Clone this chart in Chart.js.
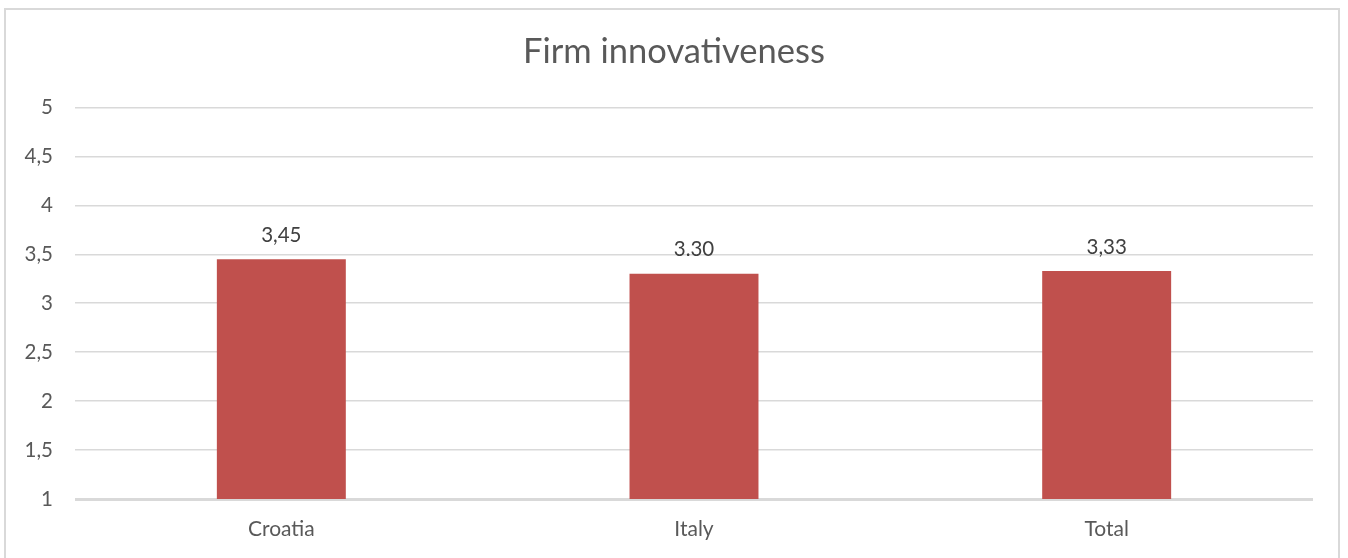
<!DOCTYPE html>
<html>
<head>
<meta charset="utf-8">
<title>Firm innovativeness</title>
<script src="https://cdn.jsdelivr.net/npm/chart.js@4/dist/chart.umd.min.js"></script>
<style>
    html, body { margin: 0; padding: 0; background: #fff; overflow: hidden; }
    #wrap { position: relative; width: 1348px; height: 558px; }
    #frame {
        position: absolute; left: 4px; top: 8px; width: 1336px; height: 600px;
        border: 2px solid #d9d9d9; box-sizing: border-box;
    }
    canvas { position: absolute; left: 0; top: 0; }
</style>
</head>
<body>
<div id="wrap">
    <div id="frame"></div>
    <canvas id="chart" width="1348" height="558"></canvas>
</div>
<script>
const categories = ['Croatia', 'Italy', 'Total'];
const scores = [3.45, 3.30, 3.33];
const scoreLabels = ['3,45', '3.30', '3,33'];
const yTickLabels = { 1: '1', 1.5: '1,5', 2: '2', 2.5: '2,5', 3: '3', 3.5: '3,5', 4: '4', 4.5: '4,5', 5: '5' };

const FONT = 'Lato, "Open Sans", sans-serif';

// value labels above each bar
const barLabels = {
    id: 'barLabels',
    afterDatasetsDraw(chart) {
        const ctx = chart.ctx;
        const meta = chart.getDatasetMeta(0);
        ctx.save();
        ctx.font = '20.5px ' + FONT;
        ctx.fillStyle = '#404040';
        ctx.textAlign = 'center';
        ctx.textBaseline = 'middle';
        meta.data.forEach((bar, i) => {
            ctx.fillText(scoreLabels[i], bar.x, bar.y - 24);
        });
        ctx.restore();
    }
};

new Chart(document.getElementById('chart'), {
    type: 'bar',
    data: {
        labels: categories,
        datasets: [{
            data: scores,
            backgroundColor: '#c0504d',
            borderWidth: 0,
            barPercentage: 0.3125,
            categoryPercentage: 1
        }]
    },
    options: {
        responsive: false,
        animation: false,
        layout: { padding: 0 },
        plugins: {
            legend: { display: false },
            tooltip: { enabled: false },
            title: {
                display: true,
                text: 'Firm innovativeness',
                color: '#595959',
                font: { family: FONT, size: 34.5, weight: 'normal' },
                padding: { top: 31, bottom: 35 }
            }
        },
        scales: {
            x: {
                grid: { display: false, drawTicks: false },
                border: { display: false },
                ticks: { color: '#595959', font: { family: FONT, size: 21 }, padding: 18 },
                afterFit(scale) { scale.height = 59; }
            },
            y: {
                min: 1,
                max: 5,
                border: { display: false },
                grid: {
                    drawTicks: false,
                    color: '#d9d9d9',
                    lineWidth: c => (c.tick && c.tick.value === 1 ? 3 : 1.5)
                },
                ticks: {
                    stepSize: 0.5,
                    color: '#595959',
                    font: { family: FONT, size: 20.5 },
                    padding: 22,
                    callback: v => yTickLabels[v]
                },
                afterFit(scale) { scale.width = 75; }
            },
            // empty right axis, only keeps a margin so the title stays centred on the frame
            yRight: {
                position: 'right',
                grid: { display: false, drawTicks: false },
                border: { display: false },
                ticks: { display: false },
                afterFit(scale) { scale.width = 35; }
            }
        }
    },
    plugins: [barLabels]
});
</script>
</body>
</html>
